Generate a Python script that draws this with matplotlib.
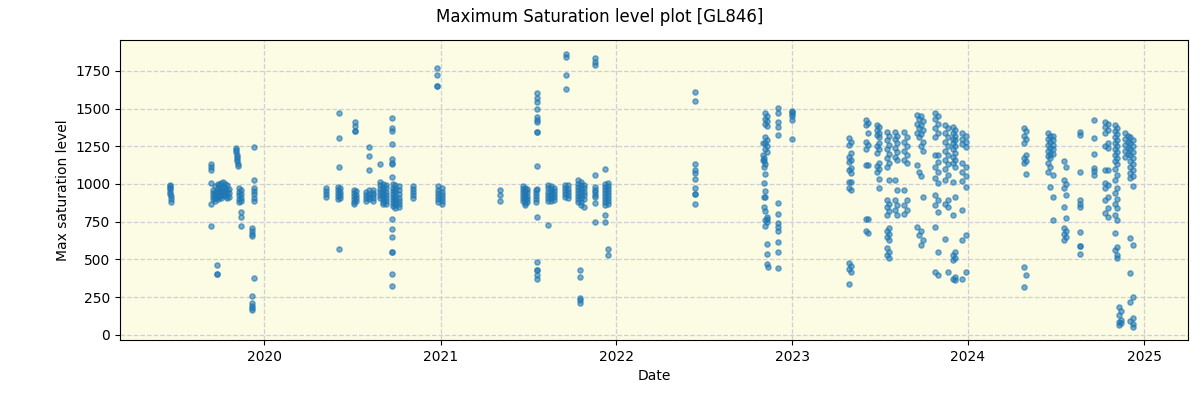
import matplotlib
matplotlib.use("Agg")
import matplotlib.pyplot as plt
import matplotlib.dates as mdates
import numpy as np
import pandas as pd

# observation nights and the max saturation levels measured on each
obs_dates = [
    "2019-06-18", "2019-06-19", "2019-06-20",
    "2019-09-13", "2019-09-25",
    "2019-09-17", "2019-09-21", "2019-09-26", "2019-09-29", "2019-10-03",
    "2019-10-07", "2019-10-11", "2019-10-15", "2019-10-19",
    "2019-11-02", "2019-11-05", "2019-11-08", "2019-11-10", "2019-11-13",
    "2019-12-10", "2019-12-07",
    "2020-05-07", "2020-06-03", "2020-06-01", "2020-06-05",
    "2020-07-08", "2020-07-06", "2020-07-10",
    "2020-07-29", "2020-08-06", "2020-08-13", "2020-08-28",
    "2020-09-04", "2020-09-09", "2020-09-22",
    "2020-09-24", "2020-09-29", "2020-10-06", "2020-11-05",
    "2020-12-25", "2020-12-27", "2021-01-03",
    "2021-05-05", "2021-06-21", "2021-06-25", "2021-06-29",
    "2021-07-20", "2021-07-18",
    "2021-08-12", "2021-08-18", "2021-08-24",
    "2021-09-19", "2021-09-16", "2021-09-22",
    "2021-10-13", "2021-10-17", "2021-10-20", "2021-10-26",
    "2021-11-17", "2021-12-08", "2021-12-14",
    "2022-06-14",
    "2022-11-01", "2022-11-04", "2022-11-06", "2022-11-09", "2022-11-12",
    "2022-12-02", "2022-12-31",
    "2023-04-29", "2023-05-04", "2023-06-03", "2023-06-07",
    "2023-06-26", "2023-07-01", "2023-07-16", "2023-07-21",
    "2023-08-02", "2023-08-06", "2023-08-22", "2023-08-27",
    "2023-09-18", "2023-09-22", "2023-09-26", "2023-09-30",
    "2023-10-25", "2023-10-30", "2023-11-15", "2023-11-20",
    "2023-12-01", "2023-12-06", "2023-12-20", "2023-12-27",
    "2024-04-26", "2024-04-30", "2024-06-16", "2024-06-20", "2024-06-25",
    "2024-07-18", "2024-07-22", "2024-08-20", "2024-09-18",
    "2024-10-12", "2024-10-17", "2024-11-01", "2024-11-06",
    "2024-11-10", "2024-11-14", "2024-11-22", "2024-11-28",
    "2024-12-03", "2024-12-09",
]

obs_levels = [
    [995, 985, 975], [965, 950, 935], [920, 900, 880],
    [1130, 1110, 1090, 1007, 868, 722], [464, 404, 400],
    [960, 940, 920, 900], [985, 950, 930, 905, 890], [1000, 970, 945, 920, 900],
    [990, 960, 935, 915], [1005, 975, 950, 925, 905],
    [1010, 980, 955, 930], [1000, 970, 945, 920], [990, 960, 935, 905], [965, 940, 915],
    [1240, 1225, 1210], [1195, 1180, 1165, 1150], [1130, 1118],
    [975, 950, 925, 900, 880], [960, 935, 910, 890, 815, 782, 722],
    [1246, 1027, 975, 955, 935, 910, 890, 378],
    [709, 690, 670, 656, 259, 212, 190, 175, 165],
    [975, 955, 935, 915], [1472, 1306, 1114, 570], [980, 960, 940, 920, 900], [970, 945, 925, 905],
    [1412, 1386, 1352, 1350], [960, 940, 920, 900, 880, 865], [955, 930, 910, 890],
    [950, 930, 910, 890], [1246, 1187, 1094, 958, 935, 915, 900], [960, 940, 925, 905, 885],
    [1134, 1014, 990, 965, 945, 925, 905],
    [1000, 980, 960, 940, 920, 900, 880, 865], [990, 970, 950, 930, 910, 890, 870],
    [1439, 1372, 1352, 1266, 1167, 1140, 1134, 1048, 769, 703, 650, 550, 548, 404, 325],
    [1000, 975, 955, 935, 915, 895, 875, 855], [990, 965, 945, 920, 900, 880, 860, 840],
    [985, 960, 935, 910, 890, 870, 850], [985, 965, 945, 925, 910],
    [1770, 1724, 1651, 1650], [985, 960, 940, 920, 900, 880], [975, 950, 930, 910, 890, 870],
    [961, 928, 888], [985, 965, 945, 925, 905, 885], [975, 955, 935, 915, 895, 875, 860],
    [965, 945, 920, 900, 880],
    [1604, 1571, 1545, 1498, 1445, 1425, 1412, 1346, 1345, 1120, 968, 782, 484, 431, 430, 398, 371],
    [960, 940, 920, 900, 882],
    [990, 970, 950, 930, 910, 890, 729], [985, 965, 945, 925, 905, 885], [975, 955, 935, 915, 895],
    [1863, 1843, 1724, 1631], [995, 975, 955, 935, 915], [990, 965, 945, 925, 905],
    [1027, 1000, 980, 960, 940, 920, 900, 880], [431, 385, 245, 230, 212],
    [1010, 990, 965, 945, 925, 905, 880, 860], [995, 970, 950, 925, 900, 850],
    [1836, 1810, 1790, 1060, 981, 960, 945, 930, 915, 875, 749],
    [1100, 1000, 980, 960, 940, 920, 900, 880, 860, 795, 749],
    [1007, 985, 965, 945, 925, 905, 885, 865, 570, 530],
    [1611, 1551, 1134, 1094, 1074, 1034, 975, 935, 934, 868],
    [1273, 1193, 1160],
    [1173, 1150, 1114, 1007, 915, 849],
    [1470, 1430, 1400, 1310, 1270, 1230, 1130, 1067, 955, 913, 822, 762, 723],
    [1450, 1415, 1385, 1290, 1250, 1215, 782, 770, 749, 603, 537, 471],
    [451],
    [1505, 1472, 1412, 1379, 1326, 875, 802, 742, 716, 690, 617, 550, 444],
    [1485, 1475, 1465, 1452, 1425, 1299],
    [1306, 1260, 1180, 1147, 1090, 1014, 975, 477, 435, 338],
    [1280, 1206, 1160, 1107, 1074, 1012, 961, 455, 418],
    [1425, 1392, 1280, 1233, 1125, 769, 690],
    [1405, 1339, 1260, 1127, 768, 676],
    [1392, 1360, 1325, 1250, 1206, 1120, 1080],
    [1375, 1340, 1313, 1273, 1230, 1140, 1100, 1034, 975],
    [1346, 1290, 1230, 1170, 1114, 895, 845, 795, 690, 650, 577, 530],
    [1320, 1260, 1200, 1140, 1027, 870, 820, 709, 670, 630, 550, 510],
    [1346, 1300, 1240, 1180, 1027, 895, 830],
    [1320, 1270, 1210, 1160, 961, 860, 795],
    [1346, 1280, 1220, 1160, 961, 860, 800],
    [1310, 1250, 1190, 1140, 895, 830],
    [1460, 1400, 1340, 1127, 716],
    [1430, 1370, 1310, 1080, 660],
    [1450, 1390, 1330, 1250, 1050, 690, 597],
    [1420, 1360, 1280, 1220, 915, 630],
    [1472, 1430, 1370, 1313, 1190, 1110, 1040, 928, 860, 716, 418],
    [1450, 1400, 1340, 1193, 1147, 1080, 1007, 895, 815, 550, 398],
    [1392, 1340, 1280, 1220, 1160, 1100, 1027, 870, 636],
    [1370, 1310, 1250, 1190, 1130, 1060, 895, 849, 418],
    [1379, 1340, 1300, 1273, 1230, 1180, 1140, 1014, 795, 530, 497, 370],
    [1360, 1320, 1290, 1250, 1206, 1160, 1114, 915, 550, 510, 385, 365],
    [1340, 1300, 1265, 1140, 1080, 1020, 829, 630, 371],
    [1320, 1280, 1246, 1110, 1050, 980, 663, 418],
    [1372, 1320, 1273, 1170, 1140, 451, 318],
    [1350, 1295, 1193, 1150, 1067, 398],
    [1339, 1300, 1260, 1220, 1185, 1140, 1080],
    [1320, 1280, 1240, 1200, 1173, 1110, 981],
    [1320, 1290, 1260, 1230, 1200, 1060, 915, 762],
    [1153, 1027, 975, 849, 709, 670, 630],
    [1114, 1000, 928, 775, 690, 650],
    [1346, 1326, 1080, 895, 870, 849, 683, 590, 588, 537],
    [1425, 1306, 1200, 1107, 1085, 1060],
    [1412, 1380, 1339, 1255, 1094, 1007, 975, 895, 810],
    [1395, 1360, 1273, 1240, 1092, 990, 915, 842, 782],
    [1392, 1350, 1310, 1270, 1230, 1190, 1150, 1100, 1027, 940, 870, 795, 676, 560],
    [1370, 1330, 1290, 1250, 1210, 1170, 1130, 1060, 975, 900, 842, 762, 583, 530, 510],
    [186, 130, 85, 66],
    [160, 100, 75],
    [1339, 1300, 1260, 1220, 1180],
    [1320, 1280, 1240, 1200],
    [1310, 1270, 1230, 1190, 1150, 1110, 1070, 1040, 643, 411, 219, 90],
    [1290, 1250, 1210, 1170, 1130, 1090, 1050, 988, 597, 252, 113, 70, 53],
]

title = "Maximum Saturation level plot [GL846]"
x_label = "Date"
y_label = "Max saturation level"

# flatten groups
x_dates = pd.to_datetime(np.repeat(obs_dates, [len(v) for v in obs_levels]))
y_vals = np.concatenate([np.asarray(v, dtype=float) for v in obs_levels])

fig = plt.figure(figsize=(12, 4), dpi=100)
ax = fig.add_axes([0.1, 0.15, 0.89, 0.75])
ax.set_facecolor("#fcfbe3")
ax.scatter(x_dates, y_vals, s=14, color="#1f77b4", alpha=0.6, zorder=3)

ax.grid(True, linestyle="--", color="#cfcfd6", linewidth=0.9, zorder=0)
ax.set_axisbelow(True)
ax.xaxis.set_major_locator(mdates.YearLocator())
ax.xaxis.set_major_formatter(mdates.DateFormatter("%Y"))
ax.set_xlim(pd.Timestamp("2019-03-07"), pd.Timestamp("2025-04-02"))
ax.set_ylim(-35, 1955)
ax.set_xlabel(x_label)
ax.set_ylabel(y_label)
fig.suptitle(title, y=0.98, fontsize=12)

fig.savefig("out.png", dpi=100)
